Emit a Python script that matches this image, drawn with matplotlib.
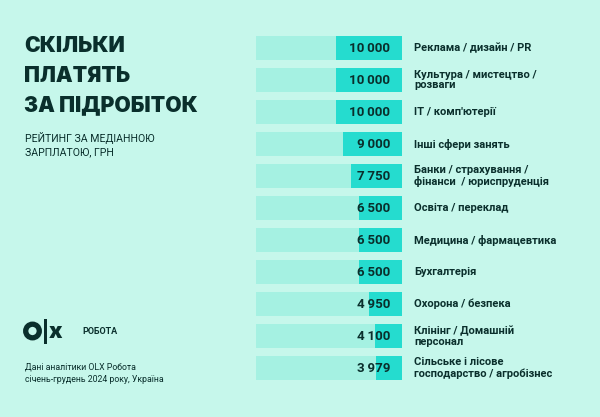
import matplotlib.pyplot as plt
from matplotlib.patches import Circle, Rectangle

# data
categories = [
    'Реклама / дизайн / PR',
    'Культура / мистецтво /\nрозваги',
    "IT / комп'ютерії",
    'Інші сфери занять',
    'Банки / страхування /\nфінанси  / юриспруденція',
    'Освіта / переклад',
    'Медицина / фармацевтика',
    'Бухгалтерія',
    'Охорона / безпека',
    'Клінінг / Домашній\nперсонал',
    'Сільське і лісове\nгосподарство / агробізнес',
]
salaries = [10000, 10000, 10000, 9000, 7750, 6500, 6500, 6500, 4950, 4100, 3979]
value_labels = ['10\u2009000', '10\u2009000', '10\u2009000', '9\u2009000', '7\u2009750',
                '6\u2009500', '6\u2009500', '6\u2009500', '4\u2009950', '4\u2009100', '3\u2009979']

BG = '#c6f7eb'
TRACK = '#a5f1e2'
BAR = '#25dccf'
DARK = '#0a2f2c'

W, H = 600, 417
fig = plt.figure(figsize=(6, 4.17), dpi=100, facecolor=BG)


def fx(px):
    return px / W


def fy(py):
    return 1 - py / H


# bars
ax = fig.add_axes([fx(256), fy(384), fx(146), 352 / H])
ax.set_facecolor(BG)
xmax = 22100
ax.set_xlim(xmax, 0)
ax.set_ylim(len(salaries) - 0.5, -0.5)
ypos = list(range(len(salaries)))
ax.barh(ypos, [xmax] * len(salaries), height=0.78, color=TRACK, linewidth=0)
ax.barh(ypos, salaries, height=0.78, color=BAR, linewidth=0)
ax.axis('off')

for i, (v, lab, cat) in enumerate(zip(salaries, value_labels, categories)):
    ax.annotate(lab, xy=(0, i), xytext=(-8.5, 0), textcoords='offset points',
                ha='right', va='center', fontsize=9.6, fontweight='bold',
                color=DARK, family='Roboto')
    ax.annotate(cat, xy=(0, i), xytext=(8.8, 0), textcoords='offset points',
                ha='left', va='center', fontsize=8, fontweight='bold',
                color=DARK, family='Roboto', linespacing=1.1,
                annotation_clip=False)

# title block
for k, line in enumerate(['СКІЛЬКИ', 'ПЛАТЯТЬ', 'ЗА ПІДРОБІТОК']):
    fig.text(fx(24), fy(46 + 29.5 * k), line, fontsize=15.2, fontweight='black',
             color=DARK, family=['Inter', 'Roboto'], va='center', ha='left')
fig.text(fx(25), fy(138), 'РЕЙТИНГ ЗА МЕДІАННОЮ', fontsize=7.6,
         color=DARK, family='Roboto', va='center')
fig.text(fx(25), fy(152), 'ЗАРПЛАТОЮ, ГРН', fontsize=7.6,
         color=DARK, family='Roboto', va='center')

# logo
lax = fig.add_axes([0, 0, 1, 1], facecolor='none')
lax.set_xlim(0, W)
lax.set_ylim(H, 0)
lax.axis('off')
lax.add_patch(Circle((32.5, 331), 6.8, fill=False, lw=3.8, ec=DARK))
lax.add_patch(Rectangle((43.5, 319), 3.2, 25, color=DARK, lw=0))
lax.text(48.5, 332, 'x', fontsize=16, fontweight='black', color=DARK,
         family=['Inter', 'Roboto'], va='center', ha='left')
lax.text(82, 331, 'РОБОТА', fontsize=6.5, fontweight='bold', color=DARK,
         family='Roboto', va='center', ha='left')
lax.text(25, 367, 'Дані аналітики OLX Робота', fontsize=6.3, color=DARK,
         family='Roboto', va='center')
lax.text(25, 379, 'січень-грудень 2024 року, Україна', fontsize=6.3, color=DARK,
         family='Roboto', va='center')

fig.savefig('out.png', dpi=100, facecolor=BG)
